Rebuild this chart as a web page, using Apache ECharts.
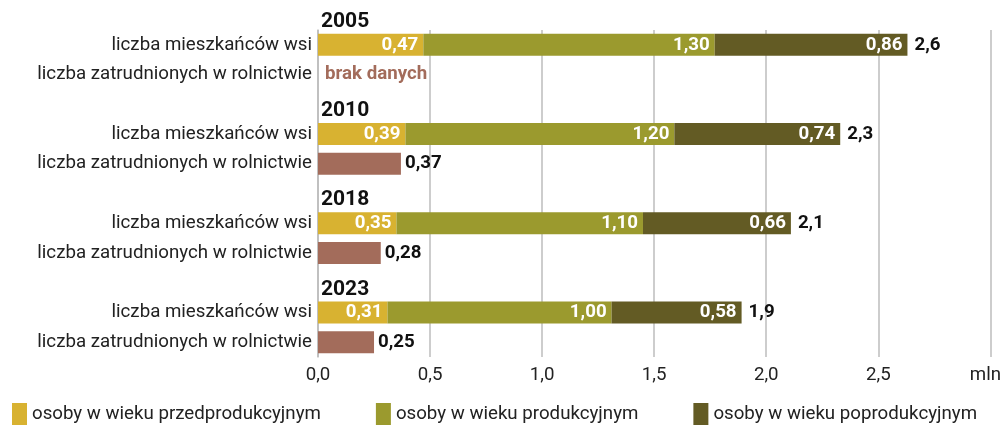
<!DOCTYPE html>
<html>
<head>
<meta charset="utf-8">
<script src="https://cdn.jsdelivr.net/npm/echarts@6/dist/echarts.min.js"></script>
<style>html,body{margin:0;padding:0;background:#fff}#c{width:1004px;height:425px}</style>
</head>
<body>
<div id="c"></div>
<script>
const years = ['2005', '2010', '2018', '2023'];
const rowLabels = ['liczba mieszkańców wsi', 'liczba zatrudnionych w rolnictwie'];
const seriesNames = ['osoby w wieku przedprodukcyjnym', 'osoby w wieku produkcyjnym', 'osoby w wieku poprodukcyjnym'];
const preProd = [0.47, 0.39, 0.35, 0.31];
const prod = [1.30, 1.20, 1.10, 1.00];
const postProd = [0.86, 0.74, 0.66, 0.58];
const employed = [null, 0.37, 0.28, 0.25];
const noDataText = 'brak danych';
const xTicks = [0, 0.5, 1, 1.5, 2, 2.5, 3];
const unitLabel = 'mln';

const colors = ['#d8b231', '#9b9a2e', '#635b24', '#a36c5b'];
const FONT = 'Roboto';
const FS = 18.7;

const cats = [], catLabel = [], mIdx = [], zIdx = [];
years.forEach((y, i) => {
  if (i > 0) { cats.push('gap' + y); catLabel.push(''); }
  mIdx.push(cats.length); cats.push('m' + y); catLabel.push(rowLabels[0]);
  zIdx.push(cats.length); cats.push('z' + y); catLabel.push(rowLabels[1]);
});
function rowData(arr) {
  const d = cats.map(() => '-');
  arr.forEach((v, i) => { if (v != null) d[mIdx[i]] = v; });
  return d;
}
function empData() {
  const d = cats.map(() => '-');
  employed.forEach((v, i) => { if (v != null) d[zIdx[i]] = v; });
  return d;
}
const fmt2 = v => v.toFixed(2).replace('.', ',');
const fmt1 = v => v.toFixed(1).replace('.', ',');

const stackLabel = {
  show: true, position: 'insideRight', distance: 5, color: '#fff',
  fontFamily: FONT, fontWeight: 'bold', fontSize: FS,
  formatter: p => fmt2(p.value)
};

const totals = years.map((y, i) => [preProd[i] + prod[i] + postProd[i], mIdx[i]]);

const option = {
  animation: false,
  textStyle: { fontFamily: FONT },
  grid: { left: 318, right: 12, top: 30, bottom: 68, containLabel: false },
  legend: {
    data: seriesNames, left: 7, top: 398, itemWidth: 15, itemHeight: 22, itemGap: 55,
    icon: 'rect', textStyle: { fontFamily: FONT, fontSize: FS, color: '#222' }
  },
  xAxis: {
    type: 'value', min: 0, max: 3, interval: 0.5,
    axisLine: { show: false }, axisTick: { show: false },
    splitLine: { show: true, lineStyle: { color: '#bdbdbd', width: 1.5 } },
    axisLabel: {
      margin: 9, fontFamily: FONT, fontSize: FS, color: '#222',
      formatter: v => (Math.abs(v - xTicks[xTicks.length - 1]) < 1e-9 ? '{u|' + unitLabel + '}' : fmt1(v)),
      rich: { u: { fontFamily: FONT, fontSize: FS, color: '#222', padding: [0, 10, 0, 0] } }
    }
  },
  yAxis: {
    type: 'category', data: cats, inverse: true,
    axisLine: { show: true, lineStyle: { color: '#bdbdbd', width: 1.5 } },
    axisTick: { show: false },
    axisLabel: { margin: 6, fontFamily: FONT, fontSize: FS, color: '#222', formatter: (v, i) => catLabel[i] }
  },
  series: [
    { name: seriesNames[0], type: 'bar', stack: 'a', barWidth: 22, data: rowData(preProd), itemStyle: { color: colors[0] }, label: stackLabel },
    { name: seriesNames[1], type: 'bar', stack: 'a', barWidth: 22, data: rowData(prod), itemStyle: { color: colors[1] }, label: stackLabel },
    { name: seriesNames[2], type: 'bar', stack: 'a', barWidth: 22, data: rowData(postProd), itemStyle: { color: colors[2] }, label: stackLabel },
    { name: 'zatrudnieni', type: 'bar', stack: 'a', barWidth: 22, data: empData(), itemStyle: { color: colors[3] },
      label: { show: true, position: 'right', distance: 4, color: '#111', fontFamily: FONT, fontWeight: 'bold', fontSize: FS, formatter: p => fmt2(p.value) } },
    { name: 'sumy', type: 'scatter', symbolSize: 0, data: totals, itemStyle: { opacity: 1 },
      label: { show: true, position: 'right', distance: 7, color: '#111', fontFamily: FONT, fontWeight: 'bold', fontSize: FS, formatter: p => fmt1(p.value[0]) } },
    { name: 'lata', type: 'scatter', symbolSize: 0, data: years.map((y, i) => [0, mIdx[i]]), itemStyle: { opacity: 1 },
      label: { show: true, position: 'right', distance: 3, offset: [0, -23], color: '#111', fontFamily: FONT, fontWeight: 'bold', fontSize: 21, formatter: p => years[p.dataIndex] } },
    { name: 'brak', type: 'scatter', symbolSize: 0, itemStyle: { opacity: 1 },
      data: employed.map((v, i) => v == null ? [0, zIdx[i]] : null).filter(d => d),
      label: { show: true, position: 'right', distance: 7, color: colors[3], fontFamily: FONT, fontWeight: 'bold', fontSize: FS, formatter: () => noDataText } }
  ]
};
echarts.init(document.getElementById('c'), null, { renderer: 'canvas' }).setOption(option);
</script>
</body>
</html>
